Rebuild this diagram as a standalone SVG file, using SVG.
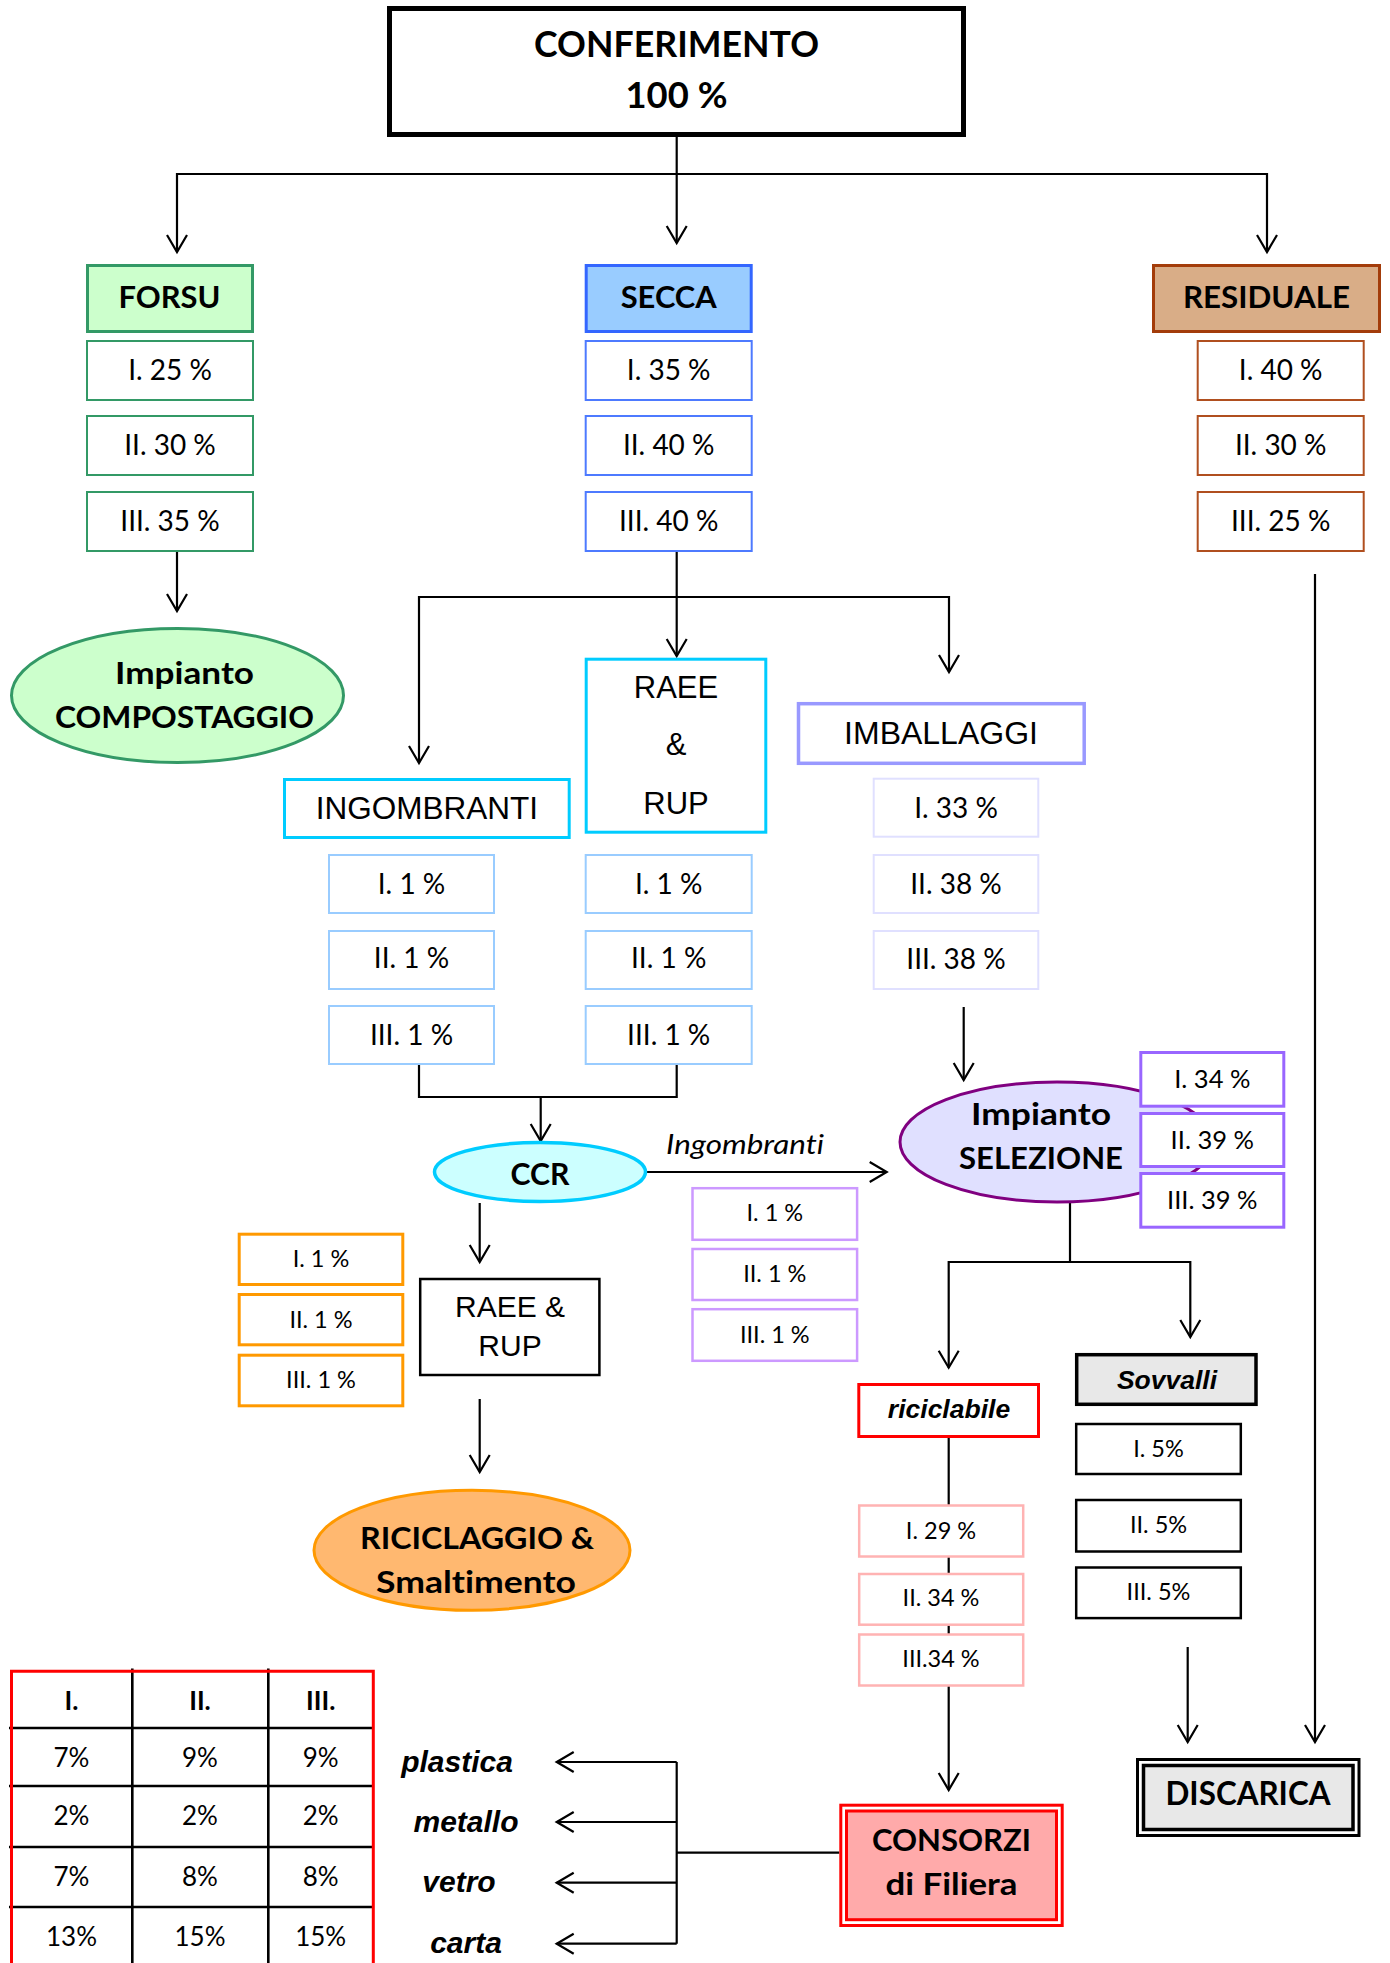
<svg xmlns="http://www.w3.org/2000/svg" width="1390" height="1963" viewBox="0 0 1390 1963">
<defs>
<marker id="arr" markerUnits="userSpaceOnUse" markerWidth="24" markerHeight="24" refX="18" refY="11" orient="auto" overflow="visible">
<path d="M1,1 L18,11 L1,21" fill="none" stroke="#000" stroke-width="2.2"/>
</marker>
<style>
text{font-variant-ligatures:none}
.c{fill:none;stroke:#000;stroke-width:2.2}
.ca{fill:none;stroke:#000;stroke-width:2.2;marker-end:url(#arr)}
.k{font-family:Lato,"Open Sans",sans-serif;fill:#000;text-anchor:middle}
.kb{font-family:Lato,"Open Sans",sans-serif;font-weight:700;fill:#000;text-anchor:middle}
.a{font-family:"Liberation Sans",Arial,sans-serif;fill:#000;text-anchor:middle}
.abi{font-family:"Liberation Sans",Arial,sans-serif;font-weight:700;font-style:italic;fill:#000;text-anchor:middle}
.p27{font-size:28px}
.p23{font-size:23.5px}
.p25{font-size:25.5px}
.h30{font-size:31px}
</style>
</defs>

<g id="connectors">
<path class="ca" d="M676.7,137 V243"/>
<path class="ca" d="M676.7,174 H177 V252"/>
<path class="ca" d="M676.7,174 H1267 V252"/>
<path class="ca" d="M177,552 V611"/>
<path class="ca" d="M676.7,552 V656"/>
<path class="ca" d="M676.7,597 H419 V763"/>
<path class="ca" d="M676.7,597 H949 V672"/>
<path class="ca" d="M1315,574 V1742"/>
<path class="c" d="M419,1065 V1097 H676.7 V1065"/>
<path class="ca" d="M540.7,1097 V1141"/>
<path class="ca" d="M646.7,1172 H886.7"/>
<path class="ca" d="M963.7,1007 V1080"/>
<path class="ca" d="M479.7,1203 V1262"/>
<path class="ca" d="M479.7,1399 V1472"/>
<path class="c" d="M1070,1203 V1262"/>
<path class="ca" d="M1070,1262 H948.7 V1367.7"/>
<path class="ca" d="M1070,1262 H1190.3 V1337"/>
<path class="ca" d="M948.7,1438 V1790"/>
<path class="ca" d="M1187.7,1647 V1742"/>
<path class="c" d="M839.3,1852.7 H676.7 M676.7,1762 V1943.7"/>
<path class="ca" d="M676.7,1762 H556.7"/>
<path class="ca" d="M676.7,1822 H556.7"/>
<path class="ca" d="M676.7,1882.7 H556.7"/>
<path class="ca" d="M676.7,1943.7 H556.7"/>
</g>

<g id="conferimento">
<rect x="389.5" y="8.5" width="574" height="126" fill="#fff" stroke="#000" stroke-width="5"/>
<text class="kb" x="676.5" y="56.7" font-size="37" textLength="285" lengthAdjust="spacingAndGlyphs">CONFERIMENTO</text>
<text class="kb" x="676.5" y="108.3" font-size="37" textLength="102" lengthAdjust="spacingAndGlyphs">100 %</text>
</g>

<g id="forsu">
<rect x="87.5" y="265.5" width="165" height="66" fill="#ccffcc" stroke="#339966" stroke-width="3"/>
<text class="kb h30" x="169.5" y="308.3" textLength="102" lengthAdjust="spacingAndGlyphs">FORSU</text>
<g fill="#fff" stroke="#339966" stroke-width="2">
<rect x="87" y="341" width="166" height="59"/>
<rect x="87" y="416" width="166" height="59"/>
<rect x="87" y="492" width="166" height="59"/>
</g>
<text class="k p27" x="170" y="380">I. 25 %</text>
<text class="k p27" x="170" y="455">II. 30 %</text>
<text class="k p27" x="170" y="531">III. 35 %</text>
</g>

<g id="secca">
<rect x="586.2" y="265.5" width="165" height="66" fill="#99ccff" stroke="#3366ff" stroke-width="3"/>
<text class="kb h30" x="668.7" y="308.3" textLength="96" lengthAdjust="spacingAndGlyphs">SECCA</text>
<g fill="#fff" stroke="#4d7aff" stroke-width="2">
<rect x="585.7" y="341" width="166" height="59"/>
<rect x="585.7" y="416" width="166" height="59"/>
<rect x="585.7" y="492" width="166" height="59"/>
</g>
<text class="k p27" x="668.7" y="380">I. 35 %</text>
<text class="k p27" x="668.7" y="455">II. 40 %</text>
<text class="k p27" x="668.7" y="531">III. 40 %</text>
</g>

<g id="residuale">
<rect x="1153.5" y="265.5" width="226" height="66" fill="#d9ad87" stroke="#a33c0a" stroke-width="3"/>
<text class="kb h30" x="1266.5" y="308.3" textLength="167" lengthAdjust="spacingAndGlyphs">RESIDUALE</text>
<g fill="#fff" stroke="#b04f1f" stroke-width="2">
<rect x="1197.7" y="341" width="166" height="59"/>
<rect x="1197.7" y="416" width="166" height="59"/>
<rect x="1197.7" y="492" width="166" height="59"/>
</g>
<text class="k p27" x="1280.7" y="380">I. 40 %</text>
<text class="k p27" x="1280.7" y="455">II. 30 %</text>
<text class="k p27" x="1280.7" y="531">III. 25 %</text>
</g>

<g id="compostaggio">
<ellipse cx="177.5" cy="695.5" rx="166" ry="67" fill="#ccffcc" stroke="#339966" stroke-width="3"/>
<text class="kb h30" x="184.5" y="684" textLength="139" lengthAdjust="spacingAndGlyphs">Impianto</text>
<text class="kb h30" x="184.5" y="728" textLength="259" lengthAdjust="spacingAndGlyphs">COMPOSTAGGIO</text>
</g>

<g id="ingombranti">
<rect x="284.5" y="779.5" width="284.7" height="58" fill="#fff" stroke="#00ccff" stroke-width="3"/>
<text class="a" x="426.8" y="819" font-size="31.5">INGOMBRANTI</text>
<g fill="#fff" stroke="#99ccff" stroke-width="2">
<rect x="329" y="855" width="165" height="58"/>
<rect x="329" y="931" width="165" height="58"/>
<rect x="329" y="1006" width="165" height="58"/>
</g>
<text class="k p27" x="411.5" y="893.7">I. 1 %</text>
<text class="k p27" x="411.5" y="968.3">II. 1 %</text>
<text class="k p27" x="411.5" y="1044.7">III. 1 %</text>
</g>

<g id="raee-rup">
<rect x="586.2" y="659.2" width="179.6" height="173" fill="#fff" stroke="#00ccff" stroke-width="3"/>
<text class="a" x="676" y="697.7" font-size="31">RAEE</text>
<text class="a" x="676" y="755" font-size="31">&amp;</text>
<text class="a" x="676" y="813.7" font-size="31">RUP</text>
<g fill="#fff" stroke="#99ccff" stroke-width="2">
<rect x="585.7" y="855" width="166" height="58"/>
<rect x="585.7" y="931" width="166" height="58"/>
<rect x="585.7" y="1006" width="166" height="58"/>
</g>
<text class="k p27" x="668.7" y="893.7">I. 1 %</text>
<text class="k p27" x="668.7" y="968.3">II. 1 %</text>
<text class="k p27" x="668.7" y="1044.7">III. 1 %</text>
</g>

<g id="imballaggi">
<rect x="798.5" y="703.7" width="285.7" height="59.6" fill="#fff" stroke="#9999ff" stroke-width="3.5"/>
<text class="a" x="941" y="744" font-size="32">IMBALLAGGI</text>
<g fill="#fff" stroke="#e0e0ff" stroke-width="2">
<rect x="873.7" y="778.7" width="164.6" height="58"/>
<rect x="873.7" y="855" width="164.6" height="58"/>
<rect x="873.7" y="931" width="164.6" height="58"/>
</g>
<text class="k p27" x="956" y="817.7">I. 33 %</text>
<text class="k p27" x="956" y="893.7">II. 38 %</text>
<text class="k p27" x="956" y="969.3">III. 38 %</text>
</g>

<g id="ccr">
<ellipse cx="540" cy="1172" rx="105.5" ry="29.5" fill="#ccffff" stroke="#00ccff" stroke-width="3.5"/>
<text class="kb h30" x="540" y="1185" textLength="59" lengthAdjust="spacingAndGlyphs">CCR</text>
</g>

<g id="ingombranti-flow">
<text x="666" y="1153.7" font-family="Lato,'Open Sans',sans-serif" font-style="italic" font-size="27" fill="#000" textLength="158" lengthAdjust="spacingAndGlyphs">Ingombranti</text>
<g fill="#fff" stroke="#cc99ff" stroke-width="2.5">
<rect x="692.5" y="1188.2" width="164.6" height="51.6"/>
<rect x="692.5" y="1249" width="164.6" height="51"/>
<rect x="692.5" y="1309.2" width="164.6" height="51.6"/>
</g>
<text class="k p23" x="774.8" y="1221.3">I. 1 %</text>
<text class="k p23" x="774.8" y="1282">II. 1 %</text>
<text class="k p23" x="774.8" y="1342.7">III. 1 %</text>
</g>

<g id="raee-rup-ccr">
<rect x="420.2" y="1279" width="179.2" height="96" fill="#fff" stroke="#000" stroke-width="2.5"/>
<text class="a" x="510" y="1317" font-size="30">RAEE &amp;</text>
<text class="a" x="510" y="1356" font-size="30">RUP</text>
</g>

<g id="raee-percent">
<g fill="#fff" stroke="#ff9900" stroke-width="3">
<rect x="239.2" y="1234.2" width="163.6" height="50.3"/>
<rect x="239.2" y="1294.5" width="163.6" height="50.3"/>
<rect x="239.2" y="1355.2" width="163.6" height="50.6"/>
</g>
<text class="k p23" x="321" y="1267">I. 1 %</text>
<text class="k p23" x="321" y="1327.7">II. 1 %</text>
<text class="k p23" x="321" y="1388">III. 1 %</text>
</g>

<g id="riciclaggio">
<ellipse cx="472" cy="1550.3" rx="158" ry="60" fill="#ffb870" stroke="#ff9900" stroke-width="3"/>
<text class="kb h30" x="477" y="1548.7" textLength="234" lengthAdjust="spacingAndGlyphs">RICICLAGGIO &amp;</text>
<text class="kb h30" x="476" y="1592.7" textLength="200" lengthAdjust="spacingAndGlyphs">Smaltimento</text>
</g>

<g id="selezione">
<ellipse cx="1057" cy="1142" rx="157" ry="60" fill="#e0e0ff" stroke="#800080" stroke-width="3"/>
<text class="kb h30" x="1041" y="1125.3" textLength="140" lengthAdjust="spacingAndGlyphs">Impianto</text>
<text class="kb h30" x="1041" y="1169.3" textLength="164" lengthAdjust="spacingAndGlyphs">SELEZIONE</text>
<g fill="#fff" stroke="#9966ff" stroke-width="3">
<rect x="1140.8" y="1052.5" width="143" height="53.7"/>
<rect x="1140.8" y="1113.5" width="143" height="53"/>
<rect x="1140.8" y="1173.5" width="143" height="53.7"/>
</g>
<text class="k p25" x="1212.3" y="1088">I. 34 %</text>
<text class="k p25" x="1212.3" y="1148.7">II. 39 %</text>
<text class="k p25" x="1212.3" y="1208.7">III. 39 %</text>
</g>

<g id="riciclabile">
<rect x="858.8" y="1384.5" width="179.7" height="52" fill="#fff" stroke="#ff0000" stroke-width="3"/>
<text class="abi" x="949" y="1418" font-size="26.5">riciclabile</text>
<g fill="#fff" stroke="#ffb3b3" stroke-width="2.5">
<rect x="859.2" y="1505.5" width="164" height="51"/>
<rect x="859.2" y="1574" width="164" height="50.7"/>
<rect x="859.2" y="1634.5" width="164" height="51"/>
</g>
<text class="k p23" x="941" y="1538.7">I. 29 %</text>
<text class="k p23" x="941" y="1606">II. 34 %</text>
<text class="k p23" x="941" y="1667">III.34 %</text>
</g>

<g id="sovvalli">
<rect x="1076.7" y="1354.7" width="179.3" height="49.6" fill="#e8e8e8" stroke="#000" stroke-width="3.5"/>
<text class="abi" x="1167" y="1388.7" font-size="26.5">Sovvalli</text>
<g fill="#fff" stroke="#000" stroke-width="2.5">
<rect x="1076.2" y="1424" width="164.6" height="50"/>
<rect x="1076.2" y="1500" width="164.6" height="51.5"/>
<rect x="1076.2" y="1567.5" width="164.6" height="50.6"/>
</g>
<text class="k p23" x="1158.5" y="1457">I. 5%</text>
<text class="k p23" x="1158.5" y="1532.7">II. 5%</text>
<text class="k p23" x="1158.5" y="1600.3">III. 5%</text>
</g>

<g id="discarica">
<rect x="1137.5" y="1759.5" width="221.5" height="76" fill="#fff" stroke="#000" stroke-width="3"/>
<rect x="1143.5" y="1765.5" width="209.5" height="64" fill="#e8e8e8" stroke="#000" stroke-width="3.5"/>
<text class="kb" x="1248" y="1805.3" font-size="31.5" textLength="165" lengthAdjust="spacingAndGlyphs">DISCARICA</text>
</g>

<g id="consorzi">
<rect x="840.8" y="1805.2" width="221.4" height="120.3" fill="#fff" stroke="#ff0000" stroke-width="3"/>
<rect x="846.5" y="1811" width="210" height="108.7" fill="#ffaaaa" stroke="#ff0000" stroke-width="3"/>
<text class="kb h30" x="951.5" y="1851" textLength="159" lengthAdjust="spacingAndGlyphs">CONSORZI</text>
<text class="kb h30" x="951.5" y="1895" textLength="132" lengthAdjust="spacingAndGlyphs">di Filiera</text>
</g>

<g id="materiali">
<text class="abi" x="457" y="1772" font-size="30">plastica</text>
<text class="abi" x="466" y="1832" font-size="30">metallo</text>
<text class="abi" x="459" y="1892" font-size="30">vetro</text>
<text class="abi" x="466" y="1953" font-size="30">carta</text>
</g>

<g id="tabella">
<g stroke="#000" stroke-width="2.6" fill="none">
<path d="M9,1728 H373 M9,1786 H373 M9,1847 H373 M9,1907 H373"/>
<path d="M132.3,1668.5 V1963 M268.3,1668.5 V1963"/>
</g>
<path d="M11.5,1963 V1671.3 H373.3 V1963" fill="none" stroke="#ff0000" stroke-width="3"/>
<g class="kb" font-size="26">
<text x="71.5" y="1710">I.</text>
<text x="200" y="1710">II.</text>
<text x="320.7" y="1710">III.</text>
</g>
<g class="k" font-size="26">
<text x="71.5" y="1767">7%</text><text x="200" y="1767">9%</text><text x="320.7" y="1767">9%</text>
<text x="71.5" y="1824.7">2%</text><text x="200" y="1824.7">2%</text><text x="320.7" y="1824.7">2%</text>
<text x="71.5" y="1886">7%</text><text x="200" y="1886">8%</text><text x="320.7" y="1886">8%</text>
<text x="71.5" y="1946">13%</text><text x="200" y="1946">15%</text><text x="320.7" y="1946">15%</text>
</g>
</g>
</svg>
